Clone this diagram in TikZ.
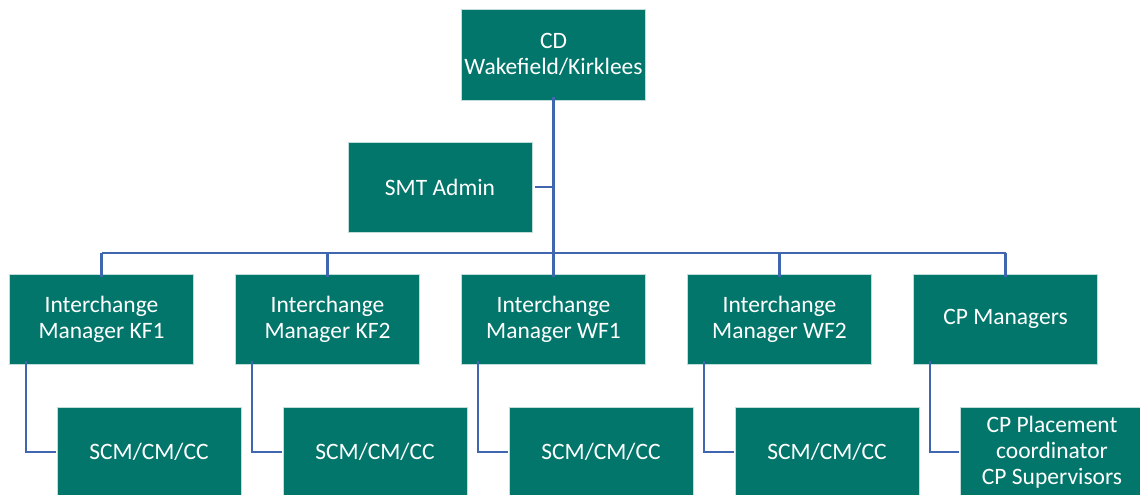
\documentclass[tikz,border=0pt]{standalone}
\usepackage{fontspec}
\setmainfont{Carlito}
\definecolor{boxteal}{HTML}{03766B}
\definecolor{linkblue}{HTML}{4166B0}
\begin{document}
\begin{tikzpicture}[x=1pt,y=-1pt,
  orgbox/.style={rectangle, fill=boxteal, draw=white!75!boxteal, line width=0.8pt,
    minimum width=184pt, minimum height=91pt, inner sep=2pt,
    text=white, align=center, font=\fontsize{23.5}{26}\selectfont},
  link/.style={draw=linkblue, line width=2.6pt}]
\useasboundingbox (0,0) rectangle (1140,495);
\begin{scope}
\clip (0,0) rectangle (1140,495);
% top level
\node[orgbox] (cd) at (553.5,54.5) {CD\\Wakefield/Kirklees};
\node[orgbox, minimum height=90pt] (smt) at (440,187) {SMT Admin};
% managers
\node[orgbox, minimum height=90pt] (m1) at (101.5,319) {Interchange\\Manager KF1};
\node[orgbox, minimum height=90pt] (m2) at (327.5,319) {Interchange\\Manager KF2};
\node[orgbox, minimum height=90pt] (m3) at (553.5,319) {Interchange\\Manager WF1};
\node[orgbox, minimum height=90pt] (m4) at (779.5,319) {Interchange\\Manager WF2};
\node[orgbox, minimum height=90pt] (m5) at (1005.5,319) {CP Managers};
% teams
\node[orgbox, minimum height=90pt] (t1) at (149,452) {SCM/CM/CC};
\node[orgbox, minimum height=90pt] (t2) at (375,452) {SCM/CM/CC};
\node[orgbox, minimum height=90pt] (t3) at (601,452) {SCM/CM/CC};
\node[orgbox, minimum height=90pt] (t4) at (827,452) {SCM/CM/CC};
\node[orgbox, minimum height=90pt] (t5) at (1052,452) {CP Placement\\coordinator\\CP Supervisors};
% bus under the director
\coordinate (bus) at (553.5,253);
\draw[link] ([yshift=3pt]cd.south) -- (bus);
\draw[link] (smt.east) ++(3pt,0) -- (smt.east -| cd.south);
\draw[link] (m1.north |- bus) -- (m5.north |- bus);
\foreach \m in {m1,m2,m3,m4,m5}
  \draw[link] (\m.north |- bus) -- ([yshift=-3pt]\m.north);
% manager to team
\foreach \m/\t in {m1/t1,m2/t2,m3/t3,m4/t4,m5/t5}
  \draw[link] ([xshift=17pt,yshift=3pt]\m.south west) |- ([xshift=-1pt]\t.west);
\end{scope}
\end{tikzpicture}
\end{document}
